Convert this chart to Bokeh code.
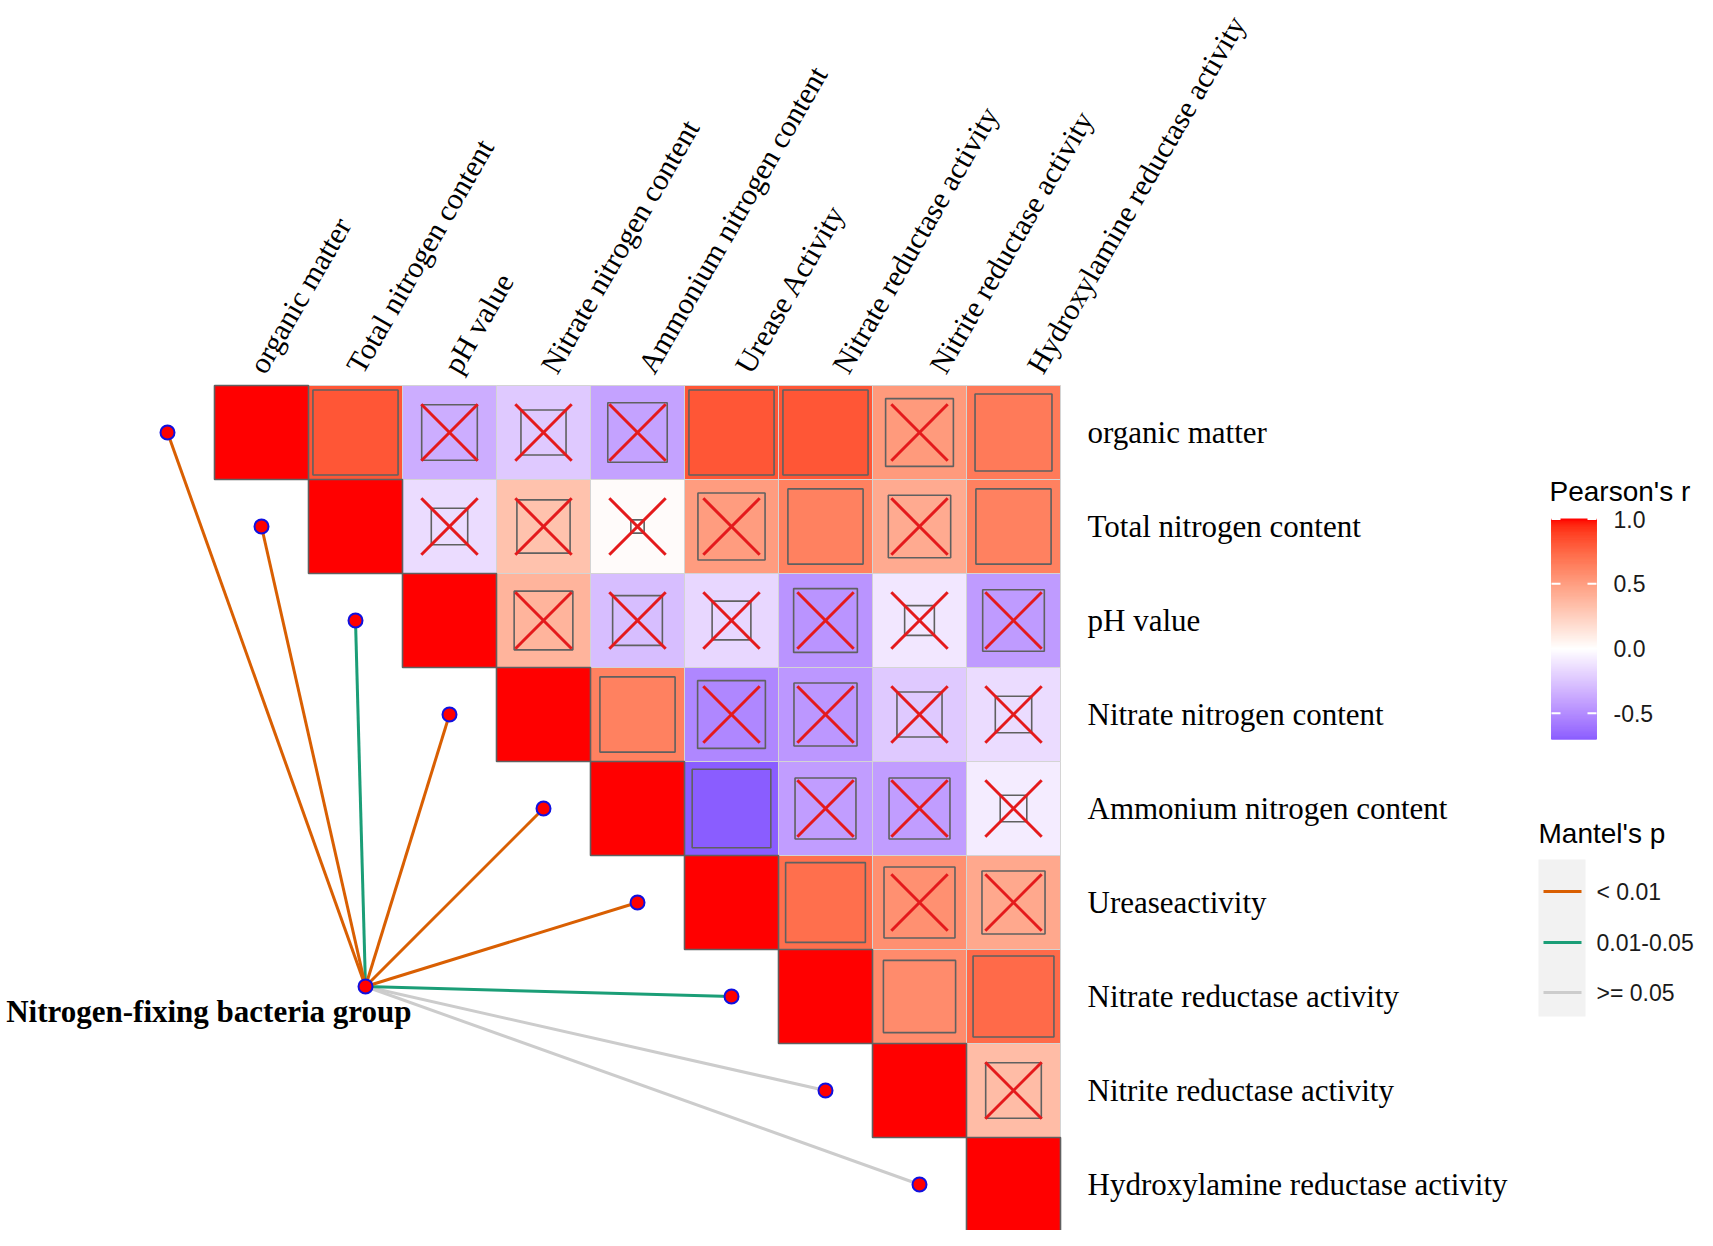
import math
from bokeh.plotting import figure
from bokeh.models import Range1d
from bokeh.core.properties import value
from bokeh.embed import file_html
from bokeh.resources import INLINE

# ---------------- data ----------------
row_labels = ["organic matter", "Total nitrogen content", "pH value",
              "Nitrate nitrogen content", "Ammonium nitrogen content",
              "Ureaseactivity", "Nitrate reductase activity",
              "Nitrite reductase activity", "Hydroxylamine reductase activity"]
col_labels = ["organic matter", "Total nitrogen content", "pH value",
              "Nitrate nitrogen content", "Ammonium nitrogen content",
              "Urease Activity", "Nitrate reductase activity",
              "Nitrite reductase activity", "Hydroxylamine reductase activity"]

# upper triangle of Pearson's r (row i, columns i..8)
r_om   = [1.00, 0.82, -0.35, -0.23, -0.40, 0.82, 0.82, 0.52, 0.67]
r_tn   = [1.00, -0.15, 0.32, 0.02, 0.51, 0.64, 0.44, 0.64]
r_ph   = [1.00, 0.39, -0.28, -0.17, -0.46, -0.10, -0.43]
r_no3  = [1.00, 0.64, -0.52, -0.45, -0.23, -0.15]
r_nh4  = [1.00, -0.70, -0.42, -0.42, -0.08]
r_ure  = [1.00, 0.72, 0.57, 0.45]
r_nr   = [1.00, 0.59, 0.74]
r_nir  = [1.00, 0.35]
r_hr   = [1.00]
r_rows = [r_om, r_tn, r_ph, r_no3, r_nh4, r_ure, r_nr, r_nir, r_hr]

# significance (True = significant, False = crossed out)
s_om   = [True, True, False, False, False, True, True, False, True]
s_tn   = [True, False, False, False, False, True, False, True]
s_ph   = [True, False, False, False, False, False, False]
s_no3  = [True, True, False, False, False, False]
s_nh4  = [True, True, False, False, False]
s_ure  = [True, True, False, False]
s_nr   = [True, True, True]
s_nir  = [True, False]
s_hr   = [True]
sig_rows = [s_om, s_tn, s_ph, s_no3, s_nh4, s_ure, s_nr, s_nir, s_hr]

group_name = "Nitrogen-fixing bacteria group"
mantel_p = ["< 0.01", "< 0.01", "0.01-0.05", "< 0.01", "< 0.01", "< 0.01",
            "0.01-0.05", ">= 0.05", ">= 0.05"]
mantel_levels = ["< 0.01", "0.01-0.05", ">= 0.05"]
mantel_colors = ["#D95F02", "#1B9E77", "#CCCCCC"]

cbar_ticks = [-0.5, 0.0, 0.5, 1.0]
cbar_tick_labels = ["-0.5", "0.0", "0.5", "1.0"]

# ---------------- colour scale (Lab interpolation like ggplot gradient2) ----------------
def _lin(c):
    c = c / 255.0
    return c / 12.92 if c <= 0.04045 else ((c + 0.055) / 1.055) ** 2.4

def rgb2lab(rgb):
    r, g, b = [_lin(v) for v in rgb]
    X = 0.4124564 * r + 0.3575761 * g + 0.1804375 * b
    Y = 0.2126729 * r + 0.7151522 * g + 0.0721750 * b
    Z = 0.0193339 * r + 0.1191920 * g + 0.9503041 * b
    f = lambda t: t ** (1 / 3) if t > 216 / 24389 else (24389 / 27 * t + 16) / 116
    fx, fy, fz = f(X / 0.95047), f(Y / 1.0), f(Z / 1.08883)
    return (116 * fy - 16, 500 * (fx - fy), 200 * (fy - fz))

def lab2hex(lab):
    L, a, b = lab
    fy = (L + 16) / 116
    fx = fy + a / 500
    fz = fy - b / 200
    finv = lambda t: t ** 3 if t ** 3 > 216 / 24389 else (116 * t - 16) / (24389 / 27)
    X = finv(fx) * 0.95047
    Y = finv(fy)
    Z = finv(fz) * 1.08883
    r = 3.2404542 * X - 1.5371385 * Y - 0.4985314 * Z
    g = -0.9692660 * X + 1.8760108 * Y + 0.0415560 * Z
    bb = 0.0556434 * X - 0.2040259 * Y + 1.0572252 * Z
    def enc(c):
        c = max(0.0, min(1.0, c))
        c = 12.92 * c if c <= 0.0031308 else 1.055 * c ** (1 / 2.4) - 0.055
        return int(round(c * 255))
    return "#%02x%02x%02x" % (enc(r), enc(g), enc(bb))

LAB_W = rgb2lab((255, 255, 255))
LAB_R = rgb2lab((255, 0, 0))
LAB_B = rgb2lab((0, 0, 255))

def fill_of(r):
    t = min(1.0, abs(r))
    end = LAB_R if r >= 0 else LAB_B
    return lab2hex(tuple(w + t * (e - w) for w, e in zip(LAB_W, end)))

# ---------------- layout helpers (picture px -> cell units) ----------------
S = 94.0
X0, Y0 = 214.0, 385.0
def ux(px):
    return (px - X0) / S
def uy(py):
    return (py - Y0) / S

W, H = 1697, 1230
p = figure(width=W, height=H, x_range=Range1d(ux(0), ux(W)),
           y_range=Range1d(uy(H), uy(0)), output_backend="svg",
           toolbar_location=None, min_border=0, outline_line_color=None,
           x_axis_location=None, y_axis_location=None)
p.grid.visible = False
p.background_fill_color = "white"

SERIF = value("Liberation Serif")
SANS = value("Liberation Sans")

# ---------------- heatmap ----------------
tx, ty, tc, ss = [], [], [], []
xx0, xy0, xx1, xy1 = [], [], [], []
for i, (rr, sg) in enumerate(zip(r_rows, sig_rows)):
    for k, (r, s) in enumerate(zip(rr, sg)):
        j = i + k
        cx, cy = j + 0.5, i + 0.5
        tx.append(cx); ty.append(cy); tc.append(fill_of(r))
        ss.append(math.sqrt(abs(r)))
        if not s:
            h = 0.3
            xx0 += [cx - h, cx - h]; xy0 += [cy - h, cy + h]
            xx1 += [cx + h, cx + h]; xy1 += [cy + h, cy - h]

p.rect(x=tx, y=ty, width=1, height=1, fill_color=tc, line_color="#d4d4d4", line_width=1)
p.rect(x=tx, y=ty, width=ss, height=ss, fill_color=tc, line_color="#606060", line_width=1.6)
p.segment(x0=xx0, y0=xy0, x1=xx1, y1=xy1, line_color="#E41A1C", line_width=3)

# ---------------- labels ----------------
n = len(row_labels)
p.text(x=[ux(1087)] * n, y=[i + 0.5 for i in range(n)], text=row_labels,
       text_font=SERIF, text_font_size="31px", text_color="black",
       text_align="left", text_baseline="middle")
p.text(x=[j + 0.5 + (-5 + 3.2 * j) / S for j in range(n)], y=[uy(370)] * n,
       text=col_labels, angle=60, angle_units="deg", text_font=SERIF,
       text_font_size="30px", text_color="black", text_align="left",
       text_baseline="middle")

# ---------------- mantel links ----------------
node_x, node_y = ux(365), uy(986)
ex = [i - 0.5 for i in range(n)]
ey = [i + 0.5 for i in range(n)]
lc = [mantel_colors[mantel_levels.index(m)] for m in mantel_p]
order = sorted(range(n), key=lambda i: -mantel_levels.index(mantel_p[i]))
p.segment(x0=[node_x] * n, y0=[node_y] * n, x1=[ex[i] for i in order],
          y1=[ey[i] for i in order], line_color=[lc[i] for i in order], line_width=3)
p.scatter(x=ex + [node_x], y=ey + [node_y], size=14, fill_color="red",
          line_color="#1010E0", line_width=2)
p.text(x=[ux(411)], y=[uy(1011)], text=[group_name], text_font=SERIF,
       text_font_size="31px", text_font_style="bold", text_color="black",
       text_align="right", text_baseline="middle")

# ---------------- colour bar legend ----------------
rmin = min(min(rr) for rr in r_rows)
def ycb(r):
    return uy(648 - 129.5 * r)
nb = 200
vals = [rmin + (1.0 - rmin) * k / nb for k in range(nb + 1)]
cb_cols = [fill_of((a + b) / 2) for a, b in zip(vals[:-1], vals[1:])]
p.quad(left=ux(1551), right=ux(1596), bottom=[ycb(v) for v in vals[:-1]],
       top=[ycb(v) for v in vals[1:]], fill_color=cb_cols, line_color=cb_cols,
       line_width=1)
p.segment(x0=[ux(1551)] * 4 + [ux(1587)] * 4, x1=[ux(1560)] * 4 + [ux(1596)] * 4,
          y0=[ycb(t) for t in cbar_ticks] * 2, y1=[ycb(t) for t in cbar_ticks] * 2,
          line_color="white", line_width=2)
p.text(x=[ux(1613)] * 4, y=[ycb(t) for t in cbar_ticks], text=cbar_tick_labels,
       text_font=SANS, text_font_size="23px", text_color="#1a1a1a",
       text_align="left", text_baseline="middle")
p.text(x=[ux(1549)], y=[uy(491)], text=["Pearson's r"], text_font=SANS,
       text_font_size="28px", text_color="black", text_align="left",
       text_baseline="alphabetic")

# ---------------- mantel legend ----------------
p.text(x=[ux(1538)], y=[uy(833)], text=["Mantel's p"], text_font=SANS,
       text_font_size="28px", text_color="black", text_align="left",
       text_baseline="alphabetic")
p.quad(left=[ux(1538)], right=[ux(1585)], top=[uy(859)], bottom=[uy(1016)],
       fill_color="#F2F2F2", line_color=None)
ly = [uy(891), uy(942), uy(992)]
p.segment(x0=[ux(1543)] * 3, x1=[ux(1581)] * 3, y0=ly, y1=ly,
          line_color=mantel_colors, line_width=3)
p.text(x=[ux(1596)] * 3, y=ly, text=mantel_levels, text_font=SANS,
       text_font_size="23px", text_color="#1a1a1a", text_align="left",
       text_baseline="middle")

open("out.html", "w").write(file_html(p, INLINE))
